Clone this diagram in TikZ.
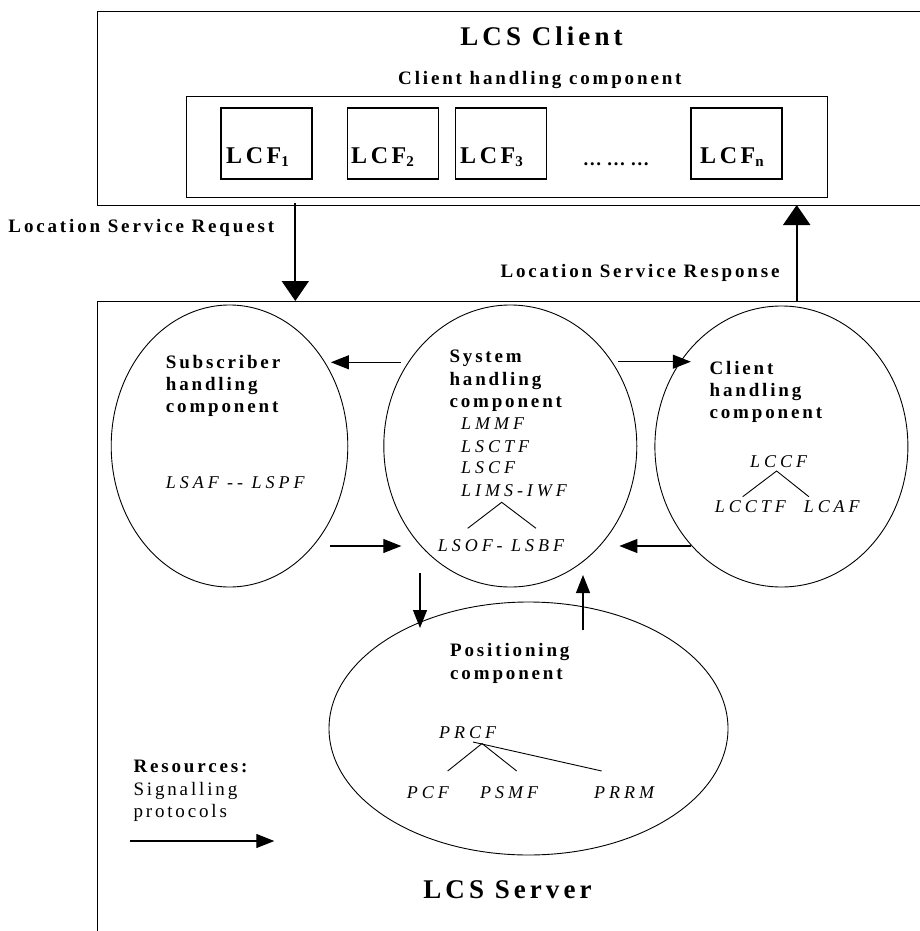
\documentclass[tikz,border=0pt]{standalone}
\usepackage{fontspec}
\setmainfont{Liberation Serif}
\newfontfamily\spfam[LetterSpace=15]{Liberation Serif}
\newfontfamily\itfam[LetterSpace=22]{Liberation Serif}
\usetikzlibrary{arrows.meta,shapes.geometric}
\tikzset{
  box/.style={draw=black, line width=1.3pt, inner sep=0pt, anchor=north west},
  lcfbox/.style={draw=black, line width=1.3pt, inner sep=0pt, minimum width=91pt, minimum height=71pt},
  ell/.style={draw=black, ellipse, line width=0.9pt, inner sep=0pt},
  bl/.style={inner sep=0pt, anchor=west, text height=12.5pt, text depth=0pt,
     font=\fontsize{19}{22}\spfam\bfseries},
  rg/.style={inner sep=0pt, anchor=west, text height=12.5pt, text depth=0pt,
     font=\fontsize{19}{22}\spfam},
  it/.style={inner sep=0pt, anchor=west, text height=12pt, text depth=0pt,
     font=\fontsize{18}{22}\itfam\itshape},
  ttl/.style={inner sep=0pt, anchor=base, font=\fontsize{27}{30}\spfam\bfseries},
  lcf/.style={inner sep=0pt, anchor=base west, font=\fontsize{24}{28}\spfam\bfseries},
  bigarr/.style={line width=2pt, -{Triangle[length=20pt,width=27pt]}},
  arr/.style={line width=1.1pt, -{Triangle[length=18pt,width=14pt]}},
  tree/.style={line width=0.9pt},
}
\newcommand{\sbs}[1]{\raisebox{-2.5pt}{\fontsize{15}{15}\selectfont #1}}
\begin{document}
\begin{tikzpicture}[x=1pt,y=-1pt]
\useasboundingbox (0,0) rectangle (920,931);
\clip (0,0) rectangle (920,931);

% ---------------- client side
\node[box, minimum width=850pt, minimum height=194pt] (client) at (97,11) {};
\node[ttl] (clientttl) at (541.5,45.7) {LCS Client};
\node[box, minimum width=641.5pt, minimum height=100.5pt] (chc) at (185.5,96) {};
\node[bl, anchor=west] (chcttl) at (398,78.3) {Client handling component};

\node[lcfbox] (lcf1) at (266.5,143.5) {};
\node[lcfbox] (lcf2) at (392.8,143.5) {};
\node[lcfbox] (lcf3) at (501.3,143.5) {};
\node[lcfbox] (lcfn) at (736.5,143.5) {};
\node[lcf] (t1) at (226,163.5) {LCF\sbs{1}};
\node[lcf] (t2) at (351,163.5) {LCF\sbs{2}};
\node[lcf] (t3) at (460,163.5) {LCF\sbs{3}};
\node[lcf] (tn) at (700,163.5) {LCF\sbs{n}};
\node[inner sep=0pt, anchor=base, font=\fontsize{19}{22}\selectfont\bfseries] (dots) at (616,165.5) {\ldots\ \ldots\ \ldots};

% ---------------- request / response
\node[bl] (reqlbl) at (8.3,226) {Location Service Request};
\node[bl] (reslbl) at (500.3,271.7) {Location Service Response};

% ---------------- server side
\node[box, minimum width=850pt, minimum height=700pt] (server) at (97,301) {};
\coordinate (reqs) at (295.3,203);
\coordinate (reqe) at (295.3,301);
\coordinate (ress) at (796.7,301);
\coordinate (rese) at (796.7,205);
\draw[bigarr] (reqs) -- (reqe);
\draw[bigarr] (ress) -- (rese);

% ellipses
\node[ell, minimum width=236.6pt, minimum height=282pt] (sub) at (229.5,446) {};
\node[ell, minimum width=253pt, minimum height=282pt] (sys) at (510.3,446) {};
\node[ell, minimum width=253pt, minimum height=281pt] (cli) at (781.4,446.5) {};
\node[ell, minimum width=399pt, minimum height=253pt] (pos) at (528.5,728.5) {};

% subscriber text
\node[bl] (s1) at (165.7,362.3) {Subscriber};
\node[bl] (s2) at (165.7,384.5) {handling};
\node[bl] (s3) at (165.7,406.7) {component};
\node[it] (s4) at (165.7,482.7) {LSAF -- LSPF};

% system text
\node[bl] (y1) at (449.3,356.7) {System};
\node[bl] (y2) at (449.3,379.3) {handling};
\node[bl] (y3) at (449.3,401.7) {component};
\node[it] (y4) at (461,423.3) {LMMF};
\node[it] (y5) at (461,446) {LSCTF};
\node[it] (y6) at (461,467.7) {LSCF};
\node[it] (y7) at (461,490) {LIMS-IWF};
\node[it] (y8) at (437.7,545) {LSOF- LSBF};
\coordinate (ya) at (501.7,502.3);
\coordinate (yl) at (467.7,528.3);
\coordinate (yr) at (536,528.3);
\draw[tree] (yl) -- (ya) -- (yr);

% client handling text
\node[bl] (c1) at (709.4,368.3) {Client};
\node[bl] (c2) at (709.4,390) {handling};
\node[bl] (c3) at (709.4,412.3) {component};
\node[it] (c4) at (750,461) {LCCF};
\node[it] (c5) at (714.7,506.7) {LCCTF};
\node[it] (c6) at (803.6,506.7) {LCAF};
\coordinate (ca) at (776.6,471);
\coordinate (cl) at (742.7,496.7);
\coordinate (cr) at (808.9,496.7);
\draw[tree] (cl) -- (ca) -- (cr);

% positioning text
\node[bl] (p1) at (450,650) {Positioning};
\node[bl] (p2) at (450,673) {component};
\node[it] (p3) at (439,732) {PRCF};
\node[it] (p4) at (406.7,792.7) {PCF};
\node[it] (p5) at (480,792.7) {PSMF};
\node[it] (p6) at (594,792.7) {PRRM};
\coordinate (pa) at (482,743.5);
\coordinate (pb) at (473,742);
\coordinate (pl) at (447.7,771);
\coordinate (pm) at (516.7,771);
\coordinate (pr) at (601.7,771);
\draw[tree] (pl) -- (pa) -- (pm);
\draw[tree] (pb) -- (pr);

% inner arrows
\coordinate (a1s) at (401.3,362.3);
\coordinate (a1e) at (330.9,362.3);
\coordinate (a2s) at (618.3,361.7);
\coordinate (a2e) at (690.8,361.7);
\coordinate (a3s) at (329.8,546);
\coordinate (a3e) at (401.3,546);
\coordinate (a4s) at (690.8,546);
\coordinate (a4e) at (619.4,546);
\coordinate (a5s) at (420,573.3);
\coordinate (a5e) at (420,628);
\coordinate (a6s) at (583,630);
\coordinate (a6e) at (583,575);
\draw[arr] (a1s) -- (a1e);
\draw[arr] (a2s) -- (a2e);
\draw[arr] (a3s) -- (a3e);
\draw[arr] (a4s) -- (a4e);
\draw[arr] (a5s) -- (a5e);
\draw[arr] (a6s) -- (a6e);

% resources
\node[bl] (r1) at (133.3,766.7) {Resources:};
\node[rg] (r2) at (133.3,789) {Signalling};
\node[rg] (r3) at (133.3,811) {protocols};
\coordinate (rs) at (130,841);
\coordinate (re) at (274.3,841);
\draw[arr] (rs) -- (re);

\node[ttl] (serverttl) at (507.5,898.3) {LCS Server};
\end{tikzpicture}
\end{document}
